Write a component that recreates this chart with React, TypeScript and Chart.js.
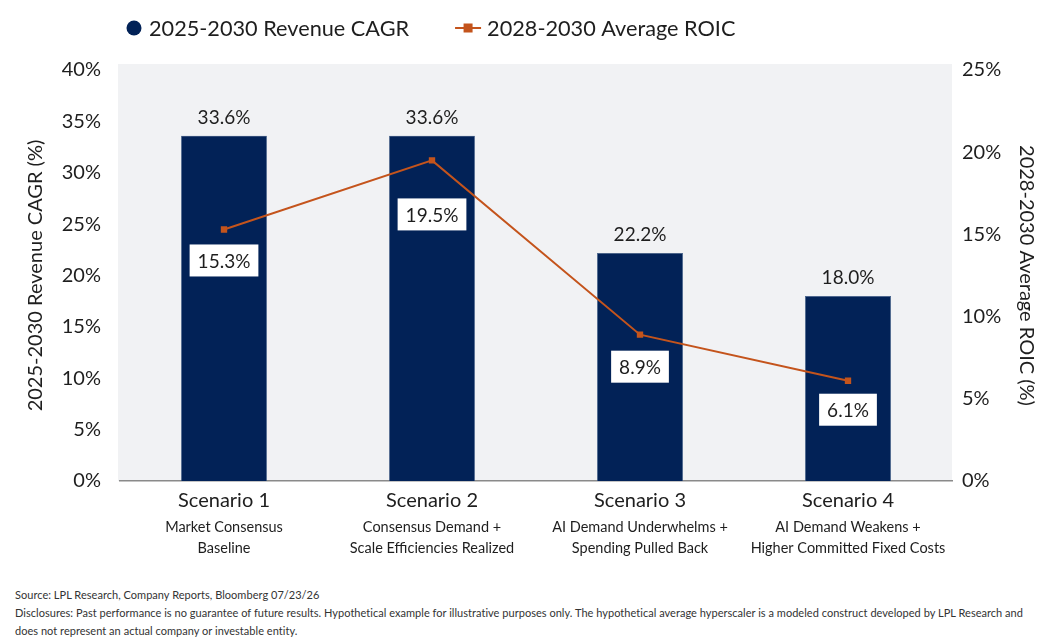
import { useEffect, useRef } from 'react';
import { Chart, registerables } from 'chart.js';

Chart.register(...registerables);

// Scenario categories and their descriptive sub-labels
const categories = ['Scenario 1', 'Scenario 2', 'Scenario 3', 'Scenario 4'];
const categoryNotes = [
  ['Market Consensus', 'Baseline'],
  ['Consensus Demand +', 'Scale Efficiencies Realized'],
  ['AI Demand Underwhelms +', 'Spending Pulled Back'],
  ['AI Demand Weakens +', 'Higher Committed Fixed Costs'],
];

// Series values (percent)
const revenueCagr = [33.6, 33.6, 22.2, 18.0];
const averageRoic = [15.3, 19.5, 8.9, 6.1];

const seriesNames = ['2025-2030 Revenue CAGR', '2028-2030 Average ROIC'];
const axisTitles = ['2025-2030 Revenue CAGR (%)', '2028-2030 Average ROIC (%)'];

// Axis ranges (percent)
const cagrAxisMax = 40;
const roicAxisMax = 25;
const tickStep = 5;

const footnotes = [
  'Source: LPL Research, Company Reports, Bloomberg 07/23/26',
  'Disclosures: Past performance is no guarantee of future results. Hypothetical example for illustrative purposes only. The hypothetical average hyperscaler is a modeled construct developed by LPL Research and',
  'does not represent an actual company or investable entity.',
];

const FONT = 'Lato, "Open Sans", sans-serif';
const NAVY = '#022257';
const ORANGE = '#c4541c';
const TEXT = '#1e1e1e';

// vertical gap between each ROIC point and its boxed label
const roicLabelGap = [31, 54, 32, 29];

const plotBackground = {
  id: 'plotBackground',
  beforeDraw(chart: any) {
    const { ctx, chartArea } = chart;
    ctx.save();
    ctx.fillStyle = '#f1f2f4';
    ctx.fillRect(chartArea.left - 2, chartArea.top - 6, chartArea.right - chartArea.left + 2, chartArea.bottom - chartArea.top + 6);
    ctx.restore();
  },
};

const valueLabels = {
  id: 'valueLabels',
  afterDatasetsDraw(chart: any) {
    const { ctx } = chart;
    ctx.save();
    ctx.textAlign = 'center';
    ctx.textBaseline = 'middle';

    // bar values above each bar
    ctx.font = `19px ${FONT}`;
    ctx.fillStyle = TEXT;
    chart.getDatasetMeta(0).data.forEach((el: any, i: number) => {
      ctx.fillText(revenueCagr[i].toFixed(1) + '%', el.x, el.y - 18);
    });

    // ROIC values in white boxes below each point
    chart.getDatasetMeta(1).data.forEach((el: any, i: number) => {
      const text = averageRoic[i].toFixed(1) + '%';
      const w = ctx.measureText(text).width + 16;
      const h = 32;
      const cy = el.y + roicLabelGap[i];
      ctx.fillStyle = '#ffffff';
      ctx.fillRect(el.x - w / 2, cy - h / 2, w, h);
      ctx.fillStyle = TEXT;
      ctx.fillText(text, el.x, cy + 1);
    });
    ctx.restore();
  },
};

const categoryLabels = {
  id: 'categoryLabels',
  afterDraw(chart: any) {
    const { ctx, chartArea } = chart;
    const xScale = chart.scales.x;
    ctx.save();
    ctx.textAlign = 'center';
    ctx.textBaseline = 'middle';
    ctx.fillStyle = TEXT;
    categories.forEach((name, i) => {
      const x = xScale.getPixelForValue(i);
      ctx.font = `20px ${FONT}`;
      ctx.fillText(name, x, chartArea.bottom + 20);
      ctx.font = `14.5px ${FONT}`;
      categoryNotes[i].forEach((line, j) => {
        ctx.fillText(line, x, chartArea.bottom + 46 + j * 21);
      });
    });
    ctx.restore();
  },
};

const topLegend = {
  id: 'topLegend',
  afterDraw(chart: any) {
    const { ctx, chartArea } = chart;
    const y = 20;
    let x = chartArea.left + 14;
    ctx.save();
    ctx.textBaseline = 'middle';
    ctx.textAlign = 'left';
    ctx.font = `21.7px ${FONT}`;

    ctx.fillStyle = NAVY;
    ctx.beginPath();
    ctx.arc(x, y, 7.5, 0, Math.PI * 2);
    ctx.fill();
    x += 15;
    ctx.fillStyle = TEXT;
    ctx.fillText(seriesNames[0], x, y + 1);
    x += ctx.measureText(seriesNames[0]).width + 46;

    ctx.strokeStyle = ORANGE;
    ctx.lineWidth = 2;
    ctx.beginPath();
    ctx.moveTo(x, y);
    ctx.lineTo(x + 26, y);
    ctx.stroke();
    ctx.fillStyle = ORANGE;
    ctx.fillRect(x + 13 - 4.5, y - 4.5, 9, 9);
    x += 32;
    ctx.fillStyle = TEXT;
    ctx.fillText(seriesNames[1], x, y + 1);
    ctx.restore();
  },
};

const pct = (v: any) => `${v}%`;

export default function App() {
  const canvasRef = useRef<HTMLCanvasElement | null>(null);

  useEffect(() => {
    if (!canvasRef.current) return;
    Chart.defaults.font.family = FONT;
    const chart = new Chart(canvasRef.current, {
      type: 'bar',
      data: {
        labels: categories,
        datasets: [
          {
            type: 'bar',
            label: seriesNames[0],
            data: revenueCagr,
            backgroundColor: NAVY,
            borderColor: '#3b5a86',
            borderWidth: 0.6,
            barPercentage: 0.413,
            categoryPercentage: 1,
            yAxisID: 'y',
            order: 2,
          },
          {
            type: 'line',
            label: seriesNames[1],
            data: averageRoic,
            borderColor: ORANGE,
            borderWidth: 2,
            pointStyle: 'rect',
            pointRadius: 4.5,
            pointBackgroundColor: ORANGE,
            pointBorderWidth: 0,
            tension: 0,
            yAxisID: 'y1',
            order: 1,
          },
        ],
      },
      options: {
        responsive: false,
        animation: false,
        layout: { padding: { top: 62, bottom: 102, left: 0, right: 0 } },
        plugins: {
          legend: { display: false },
          tooltip: { enabled: false },
        },
        scales: {
          x: {
            type: 'category',
            offset: true,
            grid: { display: false, drawTicks: false },
            ticks: { display: false },
            border: { display: true, color: '#8a8a8a', width: 1.5 },
          },
          y: {
            position: 'left',
            min: 0,
            max: cagrAxisMax,
            ticks: { stepSize: tickStep, callback: pct, font: { size: 20 }, color: TEXT, padding: 19 },
            grid: { display: false, drawTicks: false },
            border: { display: false },
            title: { display: true, text: axisTitles[0], font: { size: 20 }, color: TEXT, padding: { top: 16, bottom: 0 } },
            afterFit(scale: any) { scale.width = 112; },
          },
          y1: {
            position: 'right',
            min: 0,
            max: roicAxisMax,
            ticks: { stepSize: tickStep, callback: pct, font: { size: 20 }, color: TEXT, padding: 10 },
            grid: { display: false, drawTicks: false },
            border: { display: false },
            title: { display: true, text: axisTitles[1], font: { size: 20 }, color: TEXT, padding: { top: 14, bottom: 0 } },
            afterFit(scale: any) { scale.width = 100; },
          },
        },
      },
      plugins: [plotBackground, valueLabels, categoryLabels, topLegend],
    } as any);
    return () => chart.destroy();
  }, []);

  return (
    <div style={{ width: 1044, fontFamily: FONT }}>
      <canvas ref={canvasRef} width={1044} height={575} style={{ display: 'block' }} />
      <div style={{ paddingLeft: 7, marginTop: 3, fontSize: 11, letterSpacing: '0.03px', lineHeight: '18px', color: '#333' }}>
        {footnotes.map((line, i) => (
          <div key={i} style={{ whiteSpace: 'nowrap' }}>{line}</div>
        ))}
      </div>
    </div>
  );
}
